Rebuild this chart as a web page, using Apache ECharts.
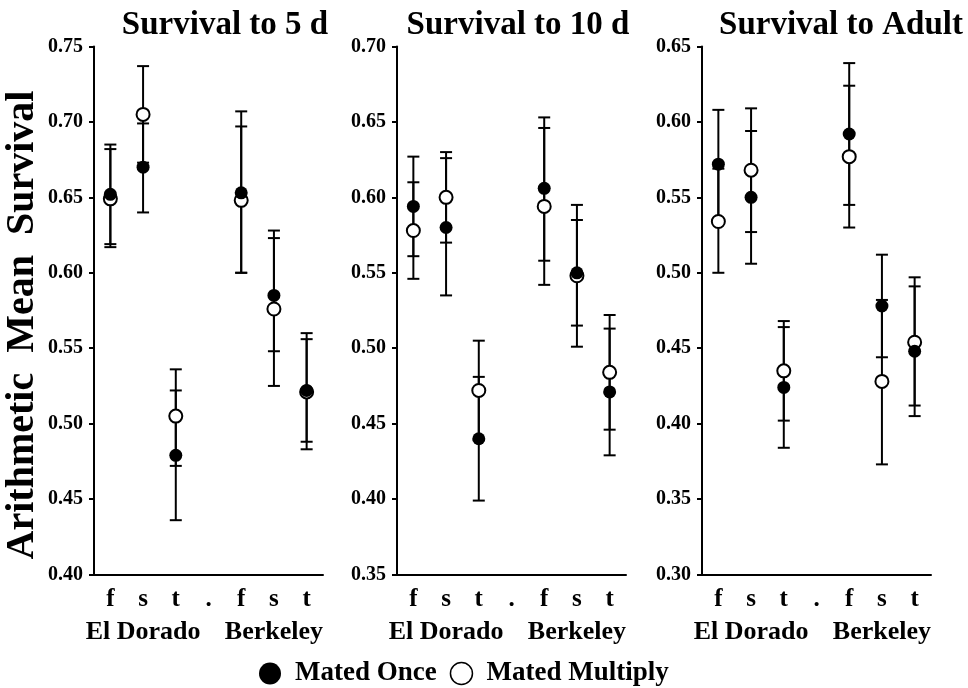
<!DOCTYPE html>
<html>
<head>
<meta charset="utf-8">
<script src="https://cdn.jsdelivr.net/npm/echarts@6/dist/echarts.min.js"></script>
<style>
html,body{margin:0;padding:0;background:#fff;}
#c{width:968px;height:688px;}
</style>
</head>
<body>
<div id="c"></div>
<script>
// ---- data ----
var categories = ['f', 's', 't', '.', 'f', 's', 't'];
var groupLabels = ['', 'El Dorado', '', '', '', 'Berkeley', ''];
var panelTitles = ['Survival to 5 d', 'Survival to 10 d', 'Survival to Adult'];
var yMins = [0.40, 0.35, 0.30];
var yMaxs = [0.75, 0.70, 0.65];
var seriesNames = ['Mated Once', 'Mated Multiply'];
var yAxisTitle = 'Arithmetic  Mean  Survival';

// Survival to 5 d
var d5OnceMean  = [0.652, 0.670, 0.479, null, 0.653, 0.585, 0.522];
var d5OnceLow   = [0.619, 0.640, 0.436, null, 0.600, 0.548, 0.488];
var d5OnceHigh  = [0.685, 0.699, 0.522, null, 0.707, 0.623, 0.556];
var d5MultiMean = [0.649, 0.705, 0.505, null, 0.648, 0.576, 0.521];
var d5MultiLow  = [0.617, 0.673, 0.472, null, 0.600, 0.525, 0.483];
var d5MultiHigh = [0.682, 0.737, 0.536, null, 0.697, 0.628, 0.560];

// Survival to 10 d
var d10OnceMean  = [0.594, 0.580, 0.440, null, 0.606, 0.550, 0.471];
var d10OnceLow   = [0.561, 0.535, 0.399, null, 0.558, 0.515, 0.429];
var d10OnceHigh  = [0.627, 0.626, 0.481, null, 0.653, 0.585, 0.513];
var d10MultiMean = [0.578, 0.600, 0.472, null, 0.594, 0.548, 0.484];
var d10MultiLow  = [0.546, 0.570, 0.439, null, 0.542, 0.501, 0.446];
var d10MultiHigh = [0.610, 0.630, 0.505, null, 0.646, 0.595, 0.522];

// Survival to Adult
var adOnceMean  = [0.572, 0.550, 0.424, null, 0.592, 0.478, 0.448];
var adOnceLow   = [0.536, 0.506, 0.384, null, 0.545, 0.444, 0.405];
var adOnceHigh  = [0.608, 0.594, 0.464, null, 0.639, 0.512, 0.491];
var adMultiMean = [0.534, 0.568, 0.435, null, 0.577, 0.428, 0.454];
var adMultiLow  = [0.500, 0.527, 0.402, null, 0.530, 0.373, 0.412];
var adMultiHigh = [0.569, 0.609, 0.468, null, 0.624, 0.482, 0.497];

var panels = [
  {once: [d5OnceMean, d5OnceLow, d5OnceHigh], multi: [d5MultiMean, d5MultiLow, d5MultiHigh]},
  {once: [d10OnceMean, d10OnceLow, d10OnceHigh], multi: [d10MultiMean, d10MultiLow, d10MultiHigh]},
  {once: [adOnceMean, adOnceLow, adOnceHigh], multi: [adMultiMean, adMultiLow, adMultiHigh]}
];

// ---- layout / style ----
var FONT = '"Liberation Serif", "Times New Roman", serif';
var gridLefts = [94, 397, 702];
var gridTop = 46.5, gridHeight = 528, gridWidth = 229;
var titleCenters = [220, 513, 836];

function renderErr(params, api) {
  var x = api.value(0), lo = api.value(1), hi = api.value(2);
  var p1 = api.coord([x, lo]), p2 = api.coord([x, hi]);
  var w = 6;
  var st = {stroke: '#000', lineWidth: 2};
  return {type: 'group', children: [
    {type: 'line', shape: {x1: p1[0], y1: p1[1], x2: p2[0], y2: p2[1]}, style: st},
    {type: 'line', shape: {x1: p1[0] - w, y1: p1[1], x2: p1[0] + w, y2: p1[1]}, style: st},
    {type: 'line', shape: {x1: p2[0] - w, y1: p2[1], x2: p2[0] + w, y2: p2[1]}, style: st}
  ]};
}
function errData(lo, hi) {
  var out = [];
  for (var i = 0; i < lo.length; i++) if (lo[i] != null) out.push([i, lo[i], hi[i]]);
  return out;
}

var grids = [], xAxes = [], yAxes = [], series = [], titles = [];
for (var k = 0; k < 3; k++) {
  grids.push({left: gridLefts[k], top: gridTop, width: gridWidth, height: gridHeight});
  titles.push({text: panelTitles[k], left: titleCenters[k], top: 4, textAlign: 'center',
    textStyle: {fontFamily: FONT, fontWeight: 'bold', fontSize: 33, color: '#000'}});
  xAxes.push({type: 'category', gridIndex: k, data: categories, boundaryGap: true,
    axisLine: {lineStyle: {color: '#000', width: 2}},
    axisTick: {inside: true, alignWithLabel: true, length: 6, lineStyle: {color: '#000', width: 2}},
    axisLabel: {interval: 0, margin: 13, color: '#000', fontFamily: FONT, fontWeight: 'bold', fontSize: 25},
    splitLine: {show: false}});
  yAxes.push({type: 'value', gridIndex: k, min: yMins[k], max: yMaxs[k], interval: 0.05,
    axisLine: {show: true, lineStyle: {color: '#000', width: 2}},
    axisTick: {show: true, length: 5, lineStyle: {color: '#000', width: 2}},
    axisLabel: {margin: 11, color: '#000', fontFamily: FONT, fontWeight: 'bold', fontSize: 20,
      formatter: function (v) { return v.toFixed(2); }},
    splitLine: {show: false}});
}
for (var k = 0; k < 3; k++) {
  xAxes.push({type: 'category', gridIndex: k, data: groupLabels, position: 'bottom',
    axisLine: {show: false}, axisTick: {show: false},
    axisLabel: {interval: 0, margin: 45, color: '#000', fontFamily: FONT, fontWeight: 'bold', fontSize: 26}});
}
for (var k = 0; k < 3; k++) {
  var P = panels[k];
  series.push({type: 'custom', name: seriesNames[1], xAxisIndex: k, yAxisIndex: k, z: 2,
    renderItem: renderErr, encode: {x: 0, y: [1, 2]}, data: errData(P.multi[1], P.multi[2]), silent: true});
  series.push({type: 'custom', name: seriesNames[0], xAxisIndex: k, yAxisIndex: k, z: 2,
    renderItem: renderErr, encode: {x: 0, y: [1, 2]}, data: errData(P.once[1], P.once[2]), silent: true});
  series.push({type: 'scatter', name: seriesNames[1], xAxisIndex: k, yAxisIndex: k, z: 3,
    symbol: 'circle', symbolSize: 13, data: P.multi[0],
    itemStyle: {color: '#fff', borderColor: '#000', borderWidth: 2, opacity: 1}});
  series.push({type: 'scatter', name: seriesNames[0], xAxisIndex: k, yAxisIndex: k, z: 4,
    symbol: 'circle', symbolSize: 13, data: P.once[0],
    itemStyle: {color: '#000', borderColor: '#000', borderWidth: 0, opacity: 1}});
}

var chart = echarts.init(document.getElementById('c'), null, {renderer: 'canvas'});
chart.setOption({
  backgroundColor: '#fff',
  animation: false,
  title: titles,
  grid: grids,
  xAxis: xAxes,
  yAxis: yAxes,
  series: series,
  legend: {
    data: [
      {name: seriesNames[0], icon: 'circle', itemStyle: {color: '#000', borderWidth: 0}},
      {name: seriesNames[1], icon: 'circle', itemStyle: {color: '#fff', borderColor: '#000', borderWidth: 1.5}}
    ],
    left: 254, top: 655, itemWidth: 22, itemHeight: 22, itemGap: 13,
    selectedMode: false,
    textStyle: {fontFamily: FONT, fontWeight: 'bold', fontSize: 27, color: '#000', padding: [0, 0, 0, 9]}
  },
  graphic: [{
    type: 'text', x: 23, y: 325, rotation: Math.PI / 2,
    style: {text: yAxisTitle, fontFamily: FONT, fontWeight: 'bold', fontSize: 40, fill: '#000',
      align: 'center', verticalAlign: 'middle'}
  }]
});
</script>
</body>
</html>
